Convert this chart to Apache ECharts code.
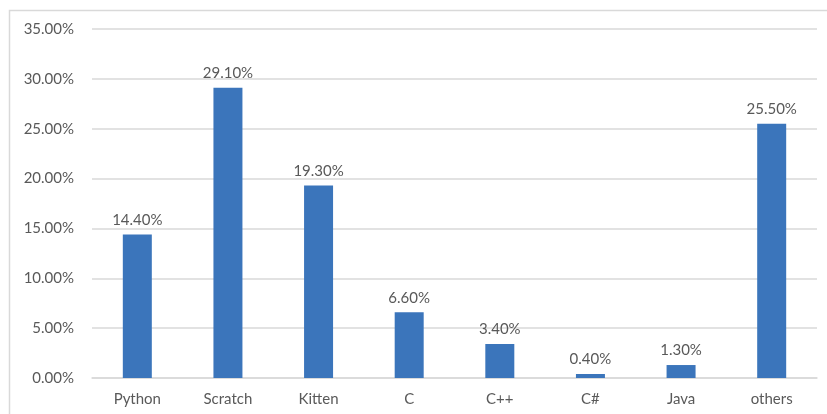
<!DOCTYPE html>
<html>
<head>
<meta charset="utf-8">
<script src="https://cdn.jsdelivr.net/npm/echarts@6/dist/echarts.min.js"></script>
<style>
    html, body { margin: 0; padding: 0; background: #fff; }
    #chartId { width: 827px; height: 414px; }
</style>
</head>
<body>
<div id="chartId"></div>
<script>
// 語言分類
const categories = ["Python", "Scratch", "Kitten", "C", "C++", "C#", "Java", "others"];
// 百分比數值
const shares = [14.4, 29.1, 19.3, 6.6, 3.4, 0.4, 1.3, 25.5];
// y軸刻度
const yMin = 0, yMax = 35, yStep = 5;

const textColor = "#595959";
const fontName = "Lato, 'Open Sans', sans-serif";

var chart = echarts.init(document.getElementById('chartId'));
var option = {
    animation: false,
    textStyle: { fontFamily: fontName },
    graphic: [{
        type: 'rect',
        left: 7, top: 8,
        shape: { width: 840, height: 420 },
        style: { fill: 'none', stroke: '#d9d9d9', lineWidth: 1.5 },
        silent: true
    }],
    grid: { top: 29, left: 92, right: 10, bottom: 36 },
    xAxis: {
        type: 'category',
        data: categories,
        axisTick: { show: false },
        axisLine: { lineStyle: { color: '#d9d9d9', width: 1.5 } },
        axisLabel: { color: textColor, fontSize: 15, margin: 14, fontFamily: fontName }
    },
    yAxis: {
        type: 'value',
        min: yMin, max: yMax, interval: yStep,
        axisLine: { show: false },
        axisTick: { show: false },
        splitLine: { lineStyle: { color: '#d9d9d9', width: 1.5 } },
        axisLabel: {
            color: textColor, fontSize: 15, margin: 18, fontFamily: fontName,
            formatter: v => v.toFixed(2) + '%'
        }
    },
    series: [{
        type: 'bar',
        data: shares,
        barWidth: 29,
        itemStyle: { color: '#3b75bb' },
        label: {
            show: true,
            position: 'top',
            distance: 7,
            color: textColor,
            fontSize: 15,
            fontFamily: fontName,
            formatter: p => p.value.toFixed(2) + '%'
        }
    }]
};
chart.setOption(option);
</script>
</body>
</html>
